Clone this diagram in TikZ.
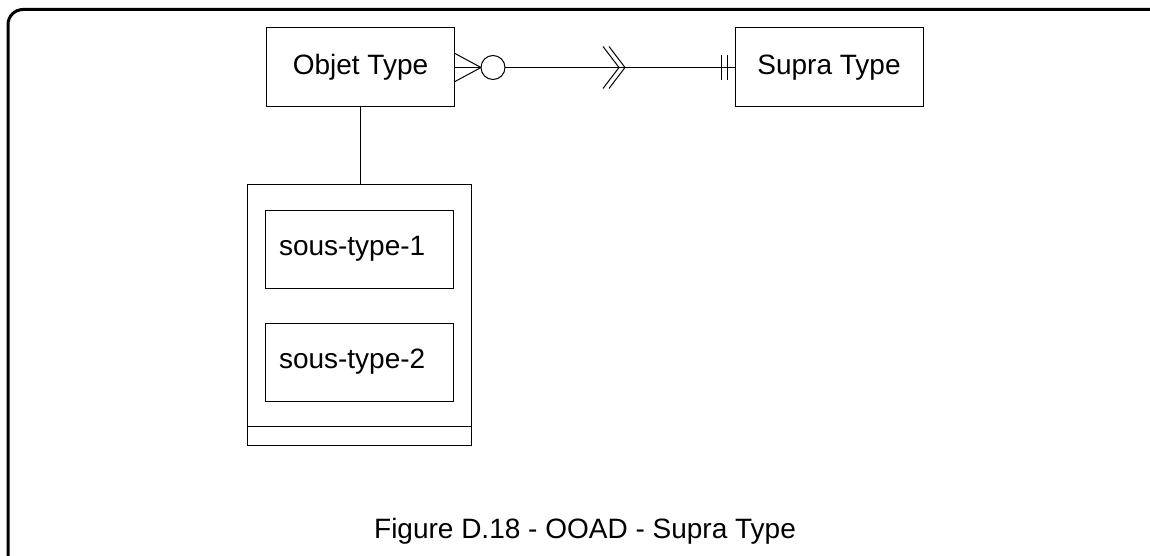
\documentclass[tikz,border=0pt]{standalone}
\usepackage{fontspec}
\setmainfont{Liberation Sans}
\usetikzlibrary{calc}

\begin{document}
\begin{tikzpicture}[x=1pt,y=-1pt,
                    entity/.style={draw,line width=1pt,minimum width=188pt,
                      minimum height=79pt,inner sep=0pt,
                      font=\fontsize{28}{34}\selectfont},
                    subentity/.style={entity,text width=160pt,inner xsep=14pt,
                      align=left,minimum height=78pt},
                    link/.style={line width=1pt}]
  \useasboundingbox (0,0) rectangle (1150,556);
  \begin{scope}
    \clip (0,0) rectangle (1150,556);
    \draw[line width=3pt,rounded corners=15pt] (8,9.5) rectangle (1220,570);
  \end{scope}
  \node[entity] (objet) at (360.5,67.5) {Objet Type};
  \node[entity] (supra) at (829,67.5) {Supra Type};
  \node[draw,line width=1pt,minimum width=224pt,minimum height=260pt]
    (container) at (359,315) {};
  \node[subentity] (sous1) at (359,249) {sous-type-1};
  \node[subentity] (sous2) at (359,362) {sous-type-2};
  \draw[link] ($(container.south west)+(0,-19)$) -- ($(container.south east)+(0,-19)$);
  \draw[link] (objet.south) -- (objet.south |- container.north);
  % relation
  \draw[link] (objet.east) -- (supra.west);
  \draw[link] ($(objet.east)+(0,-14)$) -- ($(objet.east)+(26,0)$)
    -- ($(objet.east)+(0,14)$);
  \draw[link,fill=white] ($(objet.east)+(38,0)$) circle (12pt);
  \foreach \dx in {148,154}
    \draw[link] ($(objet.east)+(\dx,-21)$) -- ($(objet.east)+(\dx+16,0)$)
      -- ($(objet.east)+(\dx,21)$);
  \foreach \dx in {-13,-7}
    \draw[link] ($(supra.west)+(\dx,-12.5)$) -- ($(supra.west)+(\dx,12.5)$);
  \node[font=\fontsize{28}{34}\selectfont,anchor=base] (caption) at (585,538)
    {Figure D.18 - OOAD - Supra Type};
\end{tikzpicture}
\end{document}
